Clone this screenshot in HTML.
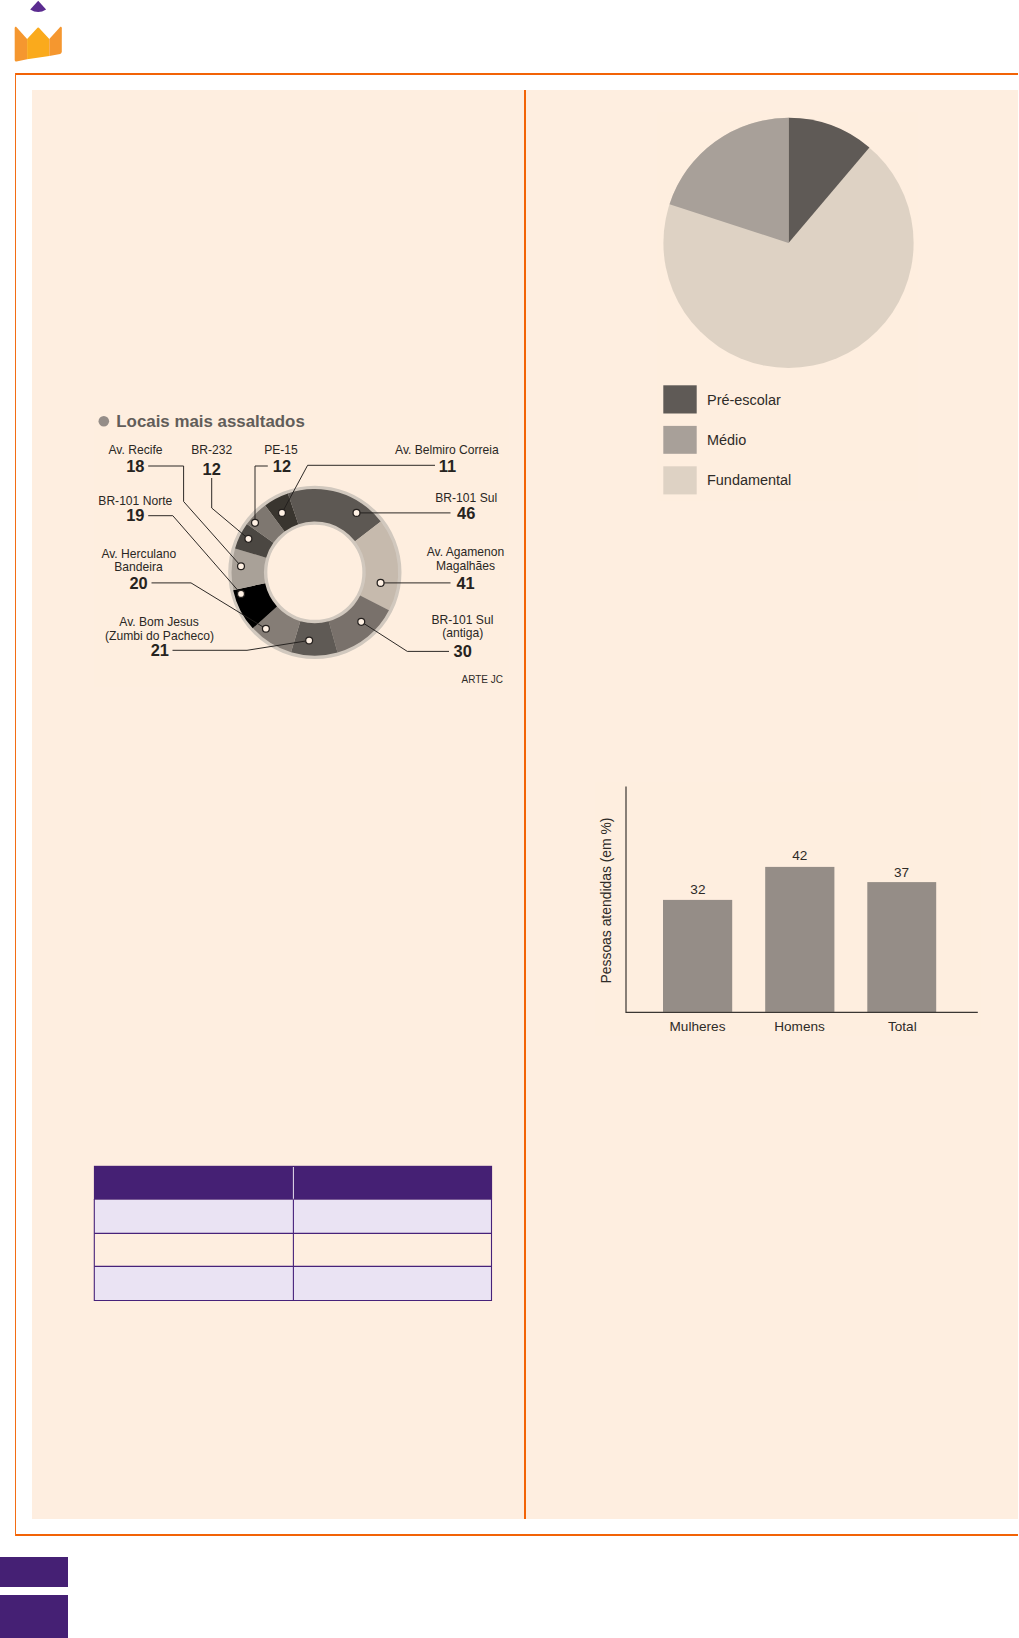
<!DOCTYPE html>
<html lang="pt-BR">
<head>
<meta charset="utf-8">
<title>Página</title>
<style>
html,body{margin:0;padding:0;background:#fff;}
body{width:1019px;height:1638px;position:relative;overflow:hidden;font-family:"Liberation Sans",Arial,sans-serif;}
.abs{position:absolute;}
#peach{left:32px;top:90px;width:986px;height:1429px;background:#feeee0;}
#ltop{left:15px;top:73px;width:1003px;height:2px;background:#f26306;}
#lbot{left:15px;top:1534px;width:1003px;height:2px;background:#f26306;}
#lleft{left:15px;top:73px;width:1px;height:1463px;background:#f36d14;}
#lmid{left:524px;top:90px;width:2px;height:1429px;background:#f26306;}
.pb{left:0;width:68px;background:#452074;}
#pb1{top:1557px;height:30px;}
#pb2{top:1595px;height:43px;}
svg{position:absolute;left:0;top:0;overflow:visible;}
svg text{font-family:"Liberation Sans",Arial,sans-serif;}
</style>
</head>
<body>
<div class="abs" id="peach"></div>
<div class="abs" id="ltop"></div>
<div class="abs" id="lbot"></div>
<div class="abs" id="lleft"></div>
<div class="abs" id="lmid"></div>
<div class="abs pb" id="pb1"></div>
<div class="abs pb" id="pb2"></div>



<svg id="main" width="1019" height="1638" viewBox="0 0 1019 1638">
<!-- LOGO -->
<g id="logo">
<path d="M38.2,0.8 L46.1,9.6 Q38.2,14.6 30.2,9.6 Z" fill="#5b2c90"/>
<path d="M14.7,28.2 Q14.7,26.4 16.1,26.8 L27.1,39 L27.1,59.3 L16.5,61.6 Q14.7,61.8 14.7,60 Z" fill="#f5972f"/>
<path d="M27.1,39 L37.5,27.8 Q38.2,27.0 38.9,27.8 L49.3,38.9 L49.3,55.9 L27.1,59.3 Z" fill="#faaa1c"/>
<path d="M49.3,38.9 L60.4,26.8 Q61.8,26.4 61.8,28.2 L61.8,51.6 Q61.8,53.4 60.2,53.9 L49.3,55.9 Z" fill="#f5972f"/>
</g>

<!-- DONUT CHART -->
<g id="donut">
<rect x="94" y="410" width="415" height="277.5" fill="#feeedf"/>
<circle cx="103.8" cy="421.2" r="5.3" fill="#958d88"/>
<text x="116.3" y="427" font-size="16.3" font-weight="bold" fill="#625d59" textLength="188.5" lengthAdjust="spacingAndGlyphs">Locais mais assaltados</text>
<circle cx="314.85" cy="572.35" r="67.075" fill="none" stroke="#d1c8be" stroke-width="39.15"/>
<path d="M265.18,505.48 A83.3,83.3 0 0 1 287.87,493.54 L298.36,524.19 A50.9,50.9 0 0 0 284.50,531.49 Z" fill="#39352f"/>
<path d="M287.87,493.54 A83.3,83.3 0 0 1 380.76,521.41 L355.12,541.22 A50.9,50.9 0 0 0 298.36,524.19 Z" fill="#5d5853"/>
<path d="M380.76,521.41 A83.3,83.3 0 0 1 388.97,610.36 L360.14,595.58 A50.9,50.9 0 0 0 355.12,541.22 Z" fill="#c6baad"/>
<path d="M388.97,610.36 A83.3,83.3 0 0 1 337.53,652.50 L328.71,621.33 A50.9,50.9 0 0 0 360.14,595.58 Z" fill="#79716b"/>
<path d="M337.53,652.50 A83.3,83.3 0 0 1 291.05,652.18 L300.31,621.13 A50.9,50.9 0 0 0 328.71,621.33 Z" fill="#5f5a55"/>
<path d="M291.05,652.18 A83.3,83.3 0 0 1 252.95,628.09 L277.02,606.41 A50.9,50.9 0 0 0 300.31,621.13 Z" fill="#857d76"/>
<path d="M252.72,628.29 A83.6,83.6 0 0 1 233.17,590.16 L265.12,583.19 A50.9,50.9 0 0 0 277.02,606.41 Z" fill="#000000"/>
<path d="M233.46,590.10 A83.3,83.3 0 0 1 235.06,548.41 L266.10,557.72 A50.9,50.9 0 0 0 265.12,583.19 Z" fill="#a9a198"/>
<path d="M235.06,548.41 A83.3,83.3 0 0 1 246.95,524.10 L273.36,542.86 A50.9,50.9 0 0 0 266.10,557.72 Z" fill="#4b4742"/>
<path d="M246.95,524.10 A83.3,83.3 0 0 1 265.18,505.48 L284.50,531.49 A50.9,50.9 0 0 0 273.36,542.86 Z" fill="#7e7770"/>

<polyline points="148.2,466 183.6,466 183.6,501.5 241,566.2" fill="none" stroke="#221f1c" stroke-width="0.95"/>
<polyline points="211.7,478 211.7,508 248.4,538.8" fill="none" stroke="#221f1c" stroke-width="0.95"/>
<polyline points="267.8,466 255,466 255,522.8" fill="none" stroke="#221f1c" stroke-width="0.95"/>
<polyline points="435,465.3 307.6,465.3 282,512.9" fill="none" stroke="#221f1c" stroke-width="0.95"/>
<polyline points="450.5,512.9 356.5,512.9" fill="none" stroke="#221f1c" stroke-width="0.95"/>
<polyline points="450.5,582.9 380.6,582.9" fill="none" stroke="#221f1c" stroke-width="0.95"/>
<polyline points="449,651.4 407.3,651.4 361.25,621.8" fill="none" stroke="#221f1c" stroke-width="0.95"/>
<polyline points="172.5,650.3 247,650.3 309,640.5" fill="none" stroke="#221f1c" stroke-width="0.95"/>
<polyline points="151.5,582.9 191,582.9 265.9,628.7" fill="none" stroke="#221f1c" stroke-width="0.95"/>
<polyline points="148.2,515.7 172.8,515.7 241,593.9" fill="none" stroke="#221f1c" stroke-width="0.95"/>
<circle cx="282.0" cy="512.9" r="3.45" fill="#fff1e4" stroke="#25211f" stroke-width="1.25"/>
<circle cx="356.5" cy="512.9" r="3.45" fill="#fff1e4" stroke="#25211f" stroke-width="1.25"/>
<circle cx="380.6" cy="582.9" r="3.45" fill="#fff1e4" stroke="#25211f" stroke-width="1.25"/>
<circle cx="361.25" cy="621.8" r="3.45" fill="#fff1e4" stroke="#25211f" stroke-width="1.25"/>
<circle cx="309.15" cy="640.5" r="3.45" fill="#fff1e4" stroke="#25211f" stroke-width="1.25"/>
<circle cx="265.9" cy="628.7" r="3.45" fill="#fff1e4" stroke="#25211f" stroke-width="1.25"/>
<circle cx="241.0" cy="593.9" r="3.45" fill="#fff1e4" stroke="#25211f" stroke-width="1.25"/>
<circle cx="241.0" cy="566.2" r="3.45" fill="#fff1e4" stroke="#25211f" stroke-width="1.25"/>
<circle cx="248.4" cy="538.8" r="3.45" fill="#fff1e4" stroke="#25211f" stroke-width="1.25"/>
<circle cx="255.0" cy="522.8" r="3.45" fill="#fff1e4" stroke="#25211f" stroke-width="1.25"/>
<text x="135.5" y="454.2" text-anchor="middle" font-size="12.1" fill="#2a2724">Av. Recife</text>
<text x="211.7" y="454.2" text-anchor="middle" font-size="12.1" fill="#2a2724">BR-232</text>
<text x="281" y="454.2" text-anchor="middle" font-size="12.1" fill="#2a2724">PE-15</text>
<text x="446.9" y="454.1" text-anchor="middle" font-size="12.1" fill="#2a2724">Av. Belmiro Correia</text>
<text x="135.3" y="504.5" text-anchor="middle" font-size="12.1" fill="#2a2724">BR-101 Norte</text>
<text x="466.2" y="502.4" text-anchor="middle" font-size="12.1" fill="#2a2724">BR-101 Sul</text>
<text x="138.8" y="558.0" text-anchor="middle" font-size="12.1" fill="#2a2724">Av. Herculano</text>
<text x="138.5" y="571.4" text-anchor="middle" font-size="12.1" fill="#2a2724">Bandeira</text>
<text x="465.5" y="556.2" text-anchor="middle" font-size="12.1" fill="#2a2724">Av. Agamenon</text>
<text x="465.5" y="570.4" text-anchor="middle" font-size="12.1" fill="#2a2724">Magalhães</text>
<text x="159.1" y="626.1" text-anchor="middle" font-size="12.1" fill="#2a2724">Av. Bom Jesus</text>
<text x="159.5" y="639.5" text-anchor="middle" font-size="12.1" fill="#2a2724">(Zumbi do Pacheco)</text>
<text x="462.4" y="624.2" text-anchor="middle" font-size="12.1" fill="#2a2724">BR-101 Sul</text>
<text x="462.7" y="637.2" text-anchor="middle" font-size="12.1" fill="#2a2724">(antiga)</text>
<text x="135.3" y="471.7" text-anchor="middle" font-size="16.4" font-weight="bold" fill="#262320">18</text>
<text x="211.7" y="474.5" text-anchor="middle" font-size="16.4" font-weight="bold" fill="#262320">12</text>
<text x="281.9" y="471.7" text-anchor="middle" font-size="16.4" font-weight="bold" fill="#262320">12</text>
<text x="447.4" y="471.8" text-anchor="middle" font-size="16.4" font-weight="bold" fill="#262320">11</text>
<text x="135.3" y="521.4" text-anchor="middle" font-size="16.4" font-weight="bold" fill="#262320">19</text>
<text x="466.2" y="519.2" text-anchor="middle" font-size="16.4" font-weight="bold" fill="#262320">46</text>
<text x="138.5" y="589.2" text-anchor="middle" font-size="16.4" font-weight="bold" fill="#262320">20</text>
<text x="465.6" y="589.2" text-anchor="middle" font-size="16.4" font-weight="bold" fill="#262320">41</text>
<text x="159.8" y="656.4" text-anchor="middle" font-size="16.4" font-weight="bold" fill="#262320">21</text>
<text x="462.7" y="656.8" text-anchor="middle" font-size="16.4" font-weight="bold" fill="#262320">30</text>
<text x="502.9" y="683.3" text-anchor="end" font-size="10.4" textLength="41.4" lengthAdjust="spacingAndGlyphs" fill="#2e2b28">ARTE JC</text>
</g>

<!-- TABLE -->
<g id="tbl">
<rect x="94.3" y="1199.7" width="397.4" height="33.7" fill="#eae3f3"/>
<rect x="94.3" y="1266.4" width="397.4" height="34.1" fill="#eae3f3"/>
<rect x="93.9" y="1165.8" width="398.2" height="33.9" fill="#452074"/>
<g stroke="#47227a" stroke-width="1.1" fill="none">
<path d="M94.3,1199 V1300.5 H491.5 V1199"/>
<path d="M94.3,1233.4 H491.7 M94.3,1266.4 H491.7 M293.4,1199.7 V1300.5"/>
</g>
<path d="M293.4,1167 V1198.8" stroke="#fbf7fc" stroke-width="0.9" fill="none"/>
</g>

<!-- PIE CHART -->
<g id="pie">
<rect x="657.7" y="112" width="260.5" height="388.7" fill="#feeedf"/>
<circle cx="788.5" cy="242.9" r="125.1" fill="#ded2c4"/>
<path d="M788.5,242.9 L788.50,117.80 A125.1,125.1 0 0 1 869.41,147.49 Z" fill="#5f5a56"/>
<path d="M788.5,242.9 L669.52,204.24 A125.1,125.1 0 0 1 788.50,117.80 Z" fill="#a8a099"/>
<rect x="663.3" y="385.3" width="33.4" height="28.2" fill="#5f5a56"/>
<rect x="663.3" y="425.9" width="33.4" height="27.9" fill="#a8a099"/>
<rect x="663.3" y="466.3" width="33.4" height="28.1" fill="#ded2c4"/>
<text x="707" y="404.7" font-size="14.45" fill="#2e2b28">Pré-escolar</text>
<text x="707" y="445" font-size="14.45" fill="#2e2b28">Médio</text>
<text x="707" y="485.4" font-size="14.45" fill="#2e2b28">Fundamental</text>
</g>

<!-- BAR CHART -->
<g id="bars">
<rect x="595" y="781.5" width="386.5" height="254.2" fill="#feeedf"/>
<rect x="663" y="899.9" width="69.2" height="112" fill="#958d87"/>
<rect x="765.2" y="866.9" width="69.2" height="145" fill="#958d87"/>
<rect x="867.3" y="882.1" width="68.9" height="130" fill="#958d87"/>
<polyline points="626,786.4 626,1012.3 977.8,1012.3" fill="none" stroke="#3a3633" stroke-width="1.2"/>
<text x="697.9" y="893.8" text-anchor="middle" font-size="13.6" fill="#2e2b28">32</text>
<text x="799.7" y="860.1" text-anchor="middle" font-size="13.6" fill="#2e2b28">42</text>
<text x="901.5" y="876.6" text-anchor="middle" font-size="13.6" fill="#2e2b28">37</text>
<text x="697.5" y="1030.9" text-anchor="middle" font-size="13.6" fill="#2e2b28">Mulheres</text>
<text x="799.5" y="1030.9" text-anchor="middle" font-size="13.6" fill="#2e2b28">Homens</text>
<text x="902.3" y="1030.9" text-anchor="middle" font-size="13.6" fill="#2e2b28">Total</text>
<text transform="translate(611.3,983.5) rotate(-90)" font-size="13.9" fill="#2e2b28">Pessoas atendidas (em %)</text>
</g>
</svg>
</body>
</html>
